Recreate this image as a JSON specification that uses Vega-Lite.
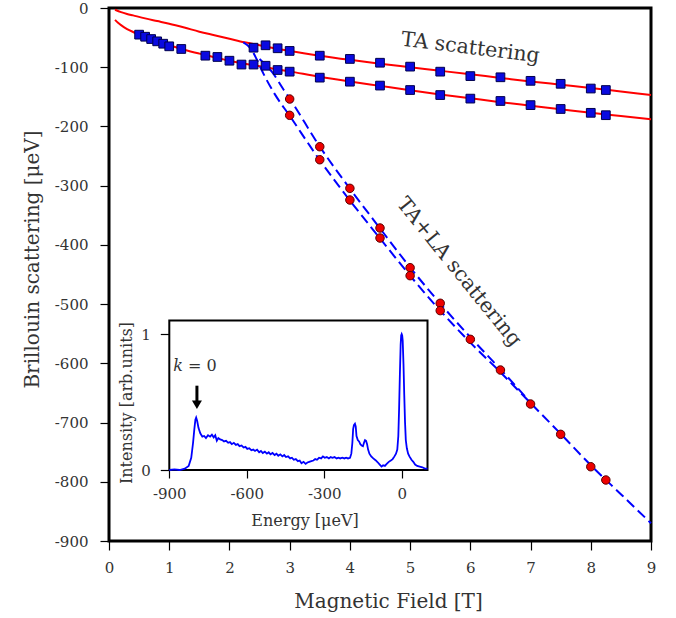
{
  "$schema": "https://vega.github.io/schema/vega-lite/v6.json",
  "width": 542,
  "height": 533,
  "autosize": "none",
  "padding": {"left": 109, "top": 8, "right": 25, "bottom": 77},
  "config": {
    "view": {"stroke": "#000", "strokeWidth": 3},
    "font": "DejaVu Serif",
    "axis": {"grid": false, "domain": false, "tickColor": "#000", "tickWidth": 1.2, "labelFont": "DejaVu Serif", "titleFont": "DejaVu Serif", "labelColor": "#333", "titleColor": "#333", "titleFontWeight": "normal", "labelFlush": false, "labelOverlap": false}
  },
  "datasets": {
    "curves": [
      {"c": "u", "B": 0.1, "E": -3}, {"c": "u", "B": 0.2, "E": -7}, {"c": "u", "B": 0.3, "E": -10}, {"c": "u", "B": 0.4, "E": -12.5},
      {"c": "u", "B": 0.6, "E": -17.5}, {"c": "u", "B": 0.8, "E": -22}, {"c": "u", "B": 1.0, "E": -26.5}, {"c": "u", "B": 1.25, "E": -33},
      {"c": "u", "B": 1.5, "E": -40}, {"c": "u", "B": 1.75, "E": -46}, {"c": "u", "B": 2.0, "E": -52}, {"c": "u", "B": 2.25, "E": -58},
      {"c": "u", "B": 2.5, "E": -63}, {"c": "u", "B": 2.75, "E": -68}, {"c": "u", "B": 3.0, "E": -72.5}, {"c": "u", "B": 3.5, "E": -80.5},
      {"c": "u", "B": 4.0, "E": -87.5}, {"c": "u", "B": 4.5, "E": -94}, {"c": "u", "B": 5.0, "E": -100}, {"c": "u", "B": 5.5, "E": -106},
      {"c": "u", "B": 6.0, "E": -112}, {"c": "u", "B": 6.5, "E": -118}, {"c": "u", "B": 7.0, "E": -124}, {"c": "u", "B": 7.5, "E": -129.5},
      {"c": "u", "B": 8.0, "E": -135}, {"c": "u", "B": 8.5, "E": -141}, {"c": "u", "B": 9.0, "E": -147},
      {"c": "l", "B": 0.1, "E": -20}, {"c": "l", "B": 0.15, "E": -25}, {"c": "l", "B": 0.2, "E": -29}, {"c": "l", "B": 0.3, "E": -35.5},
      {"c": "l", "B": 0.4, "E": -40.5}, {"c": "l", "B": 0.5, "E": -45}, {"c": "l", "B": 0.7, "E": -53}, {"c": "l", "B": 1.0, "E": -63},
      {"c": "l", "B": 1.25, "E": -70.5}, {"c": "l", "B": 1.5, "E": -77}, {"c": "l", "B": 1.75, "E": -83}, {"c": "l", "B": 2.0, "E": -89},
      {"c": "l", "B": 2.5, "E": -98.5}, {"c": "l", "B": 3.0, "E": -107}, {"c": "l", "B": 3.5, "E": -116}, {"c": "l", "B": 4.0, "E": -124},
      {"c": "l", "B": 4.5, "E": -131.5}, {"c": "l", "B": 5.0, "E": -139}, {"c": "l", "B": 5.5, "E": -146}, {"c": "l", "B": 6.0, "E": -152.5},
      {"c": "l", "B": 6.5, "E": -159}, {"c": "l", "B": 7.0, "E": -165}, {"c": "l", "B": 7.5, "E": -171}, {"c": "l", "B": 8.0, "E": -177},
      {"c": "l", "B": 8.5, "E": -182.5}, {"c": "l", "B": 9.0, "E": -188}
    ],
    "dashed": [
      {"c": "L", "B": 2.23, "E": -58}, {"c": "L", "B": 2.3, "E": -63}, {"c": "L", "B": 2.37, "E": -71}, {"c": "L", "B": 2.45, "E": -86},
      {"c": "L", "B": 2.56, "E": -110}, {"c": "L", "B": 2.75, "E": -145}, {"c": "L", "B": 3.0, "E": -182}, {"c": "L", "B": 3.5, "E": -257},
      {"c": "L", "B": 4.0, "E": -325}, {"c": "L", "B": 4.5, "E": -389}, {"c": "L", "B": 5.0, "E": -452}, {"c": "L", "B": 5.5, "E": -511},
      {"c": "L", "B": 6.0, "E": -565}, {"c": "L", "B": 6.5, "E": -615}, {"c": "L", "B": 7.0, "E": -667}, {"c": "L", "B": 7.5, "E": -719},
      {"c": "L", "B": 8.0, "E": -772}, {"c": "L", "B": 8.5, "E": -821}, {"c": "L", "B": 9.0, "E": -870},
      {"c": "R", "B": 2.5, "E": -86}, {"c": "R", "B": 2.6, "E": -96}, {"c": "R", "B": 2.7, "E": -107}, {"c": "R", "B": 2.9, "E": -138},
      {"c": "R", "B": 3.0, "E": -153}, {"c": "R", "B": 3.5, "E": -234}, {"c": "R", "B": 4.0, "E": -305}, {"c": "R", "B": 4.5, "E": -372},
      {"c": "R", "B": 5.0, "E": -438}, {"c": "R", "B": 5.5, "E": -499}, {"c": "R", "B": 6.0, "E": -556}, {"c": "R", "B": 6.5, "E": -610},
      {"c": "R", "B": 7.0, "E": -666}
    ],
    "squares": [
      {"B": 2.4, "E": -67}, {"B": 2.6, "E": -63}, {"B": 2.8, "E": -68}, {"B": 3.0, "E": -72.5}, {"B": 3.5, "E": -80.5},
      {"B": 4.0, "E": -86}, {"B": 4.5, "E": -92.4}, {"B": 5.0, "E": -99}, {"B": 5.5, "E": -107.5}, {"B": 6.0, "E": -115},
      {"B": 6.5, "E": -117}, {"B": 7.0, "E": -123}, {"B": 7.5, "E": -128}, {"B": 8.0, "E": -136}, {"B": 8.25, "E": -138.5},
      {"B": 0.5, "E": -45}, {"B": 0.6, "E": -48.5}, {"B": 0.7, "E": -52.4}, {"B": 0.8, "E": -56.3}, {"B": 0.9, "E": -60.3},
      {"B": 1.0, "E": -64.7}, {"B": 1.2, "E": -69.2}, {"B": 1.6, "E": -80.5}, {"B": 1.8, "E": -82.7}, {"B": 2.0, "E": -89},
      {"B": 2.2, "E": -95.5}, {"B": 2.4, "E": -95.5}, {"B": 2.6, "E": -97.5}, {"B": 2.8, "E": -104.7}, {"B": 3.0, "E": -107.5},
      {"B": 3.5, "E": -117.6}, {"B": 4.0, "E": -124.4}, {"B": 4.5, "E": -131}, {"B": 5.0, "E": -138.5}, {"B": 5.5, "E": -147},
      {"B": 6.0, "E": -153}, {"B": 6.5, "E": -157}, {"B": 7.0, "E": -164}, {"B": 7.5, "E": -170.5}, {"B": 8.0, "E": -177},
      {"B": 8.25, "E": -181}
    ],
    "circles": [
      {"B": 3.0, "E": -153.7}, {"B": 3.0, "E": -181.2}, {"B": 3.5, "E": -234.2}, {"B": 3.5, "E": -256.2},
      {"B": 4.0, "E": -304.5}, {"B": 4.0, "E": -324.2}, {"B": 4.5, "E": -371.5}, {"B": 4.5, "E": -388.4},
      {"B": 5.0, "E": -438.5}, {"B": 5.0, "E": -452}, {"B": 5.5, "E": -498.6}, {"B": 5.5, "E": -511},
      {"B": 6.0, "E": -559.5}, {"B": 6.5, "E": -611.3}, {"B": 7.0, "E": -668.7}, {"B": 7.5, "E": -719.9},
      {"B": 8.0, "E": -774.6}, {"B": 8.25, "E": -797}
    ],
    "spectrum": [
      {"E": -900, "I": 0.0}, {"E": -880, "I": 0.005}, {"E": -860, "I": 0.0}, {"E": -840, "I": 0.01}, {"E": -825, "I": 0.03},
      {"E": -815, "I": 0.09}, {"E": -808, "I": 0.2}, {"E": -803, "I": 0.3}, {"E": -799, "I": 0.37}, {"E": -796, "I": 0.385},
      {"E": -792, "I": 0.36}, {"E": -787, "I": 0.31}, {"E": -780, "I": 0.27}, {"E": -772, "I": 0.245}, {"E": -765, "I": 0.25},
      {"E": -758, "I": 0.235}, {"E": -750, "I": 0.255}, {"E": -742, "I": 0.245}, {"E": -735, "I": 0.26}, {"E": -728, "I": 0.24},
      {"E": -722, "I": 0.255}, {"E": -716, "I": 0.215}, {"E": -710, "I": 0.235}, {"E": -703, "I": 0.225}, {"E": -695, "I": 0.22},
      {"E": -688, "I": 0.21}, {"E": -680, "I": 0.215}, {"E": -672, "I": 0.2}, {"E": -665, "I": 0.205}, {"E": -658, "I": 0.19},
      {"E": -650, "I": 0.2}, {"E": -642, "I": 0.185}, {"E": -635, "I": 0.19}, {"E": -628, "I": 0.175}, {"E": -620, "I": 0.18},
      {"E": -612, "I": 0.165}, {"E": -605, "I": 0.17}, {"E": -598, "I": 0.155}, {"E": -590, "I": 0.16}, {"E": -582, "I": 0.145},
      {"E": -575, "I": 0.15}, {"E": -568, "I": 0.14}, {"E": -560, "I": 0.15}, {"E": -552, "I": 0.13}, {"E": -545, "I": 0.14},
      {"E": -538, "I": 0.125}, {"E": -530, "I": 0.135}, {"E": -522, "I": 0.12}, {"E": -515, "I": 0.13}, {"E": -508, "I": 0.115},
      {"E": -500, "I": 0.125}, {"E": -492, "I": 0.11}, {"E": -485, "I": 0.12}, {"E": -478, "I": 0.105}, {"E": -470, "I": 0.115},
      {"E": -462, "I": 0.1}, {"E": -455, "I": 0.11}, {"E": -448, "I": 0.095}, {"E": -440, "I": 0.1}, {"E": -432, "I": 0.085},
      {"E": -425, "I": 0.09}, {"E": -418, "I": 0.075}, {"E": -410, "I": 0.08}, {"E": -402, "I": 0.065}, {"E": -395, "I": 0.07},
      {"E": -388, "I": 0.05}, {"E": -380, "I": 0.06}, {"E": -372, "I": 0.045}, {"E": -365, "I": 0.055}, {"E": -358, "I": 0.06},
      {"E": -350, "I": 0.065}, {"E": -342, "I": 0.07}, {"E": -335, "I": 0.08}, {"E": -328, "I": 0.075}, {"E": -320, "I": 0.09},
      {"E": -312, "I": 0.085}, {"E": -305, "I": 0.1}, {"E": -298, "I": 0.09}, {"E": -290, "I": 0.095}, {"E": -282, "I": 0.085},
      {"E": -275, "I": 0.095}, {"E": -268, "I": 0.09}, {"E": -260, "I": 0.095}, {"E": -252, "I": 0.085}, {"E": -245, "I": 0.09},
      {"E": -238, "I": 0.085}, {"E": -230, "I": 0.09}, {"E": -222, "I": 0.085}, {"E": -215, "I": 0.09}, {"E": -208, "I": 0.085},
      {"E": -200, "I": 0.09}, {"E": -195, "I": 0.12}, {"E": -191, "I": 0.2}, {"E": -188, "I": 0.3}, {"E": -185, "I": 0.33},
      {"E": -181, "I": 0.34}, {"E": -178, "I": 0.32}, {"E": -175, "I": 0.25}, {"E": -170, "I": 0.22}, {"E": -165, "I": 0.21},
      {"E": -160, "I": 0.19}, {"E": -155, "I": 0.18}, {"E": -150, "I": 0.175}, {"E": -146, "I": 0.2}, {"E": -142, "I": 0.22},
      {"E": -138, "I": 0.215}, {"E": -134, "I": 0.19}, {"E": -130, "I": 0.15}, {"E": -125, "I": 0.12}, {"E": -118, "I": 0.1},
      {"E": -110, "I": 0.085}, {"E": -100, "I": 0.07}, {"E": -92, "I": 0.055}, {"E": -85, "I": 0.04}, {"E": -78, "I": 0.025},
      {"E": -72, "I": 0.035}, {"E": -65, "I": 0.03}, {"E": -58, "I": 0.045}, {"E": -50, "I": 0.06}, {"E": -42, "I": 0.07},
      {"E": -35, "I": 0.08}, {"E": -28, "I": 0.1}, {"E": -22, "I": 0.12}, {"E": -17, "I": 0.15}, {"E": -13, "I": 0.25},
      {"E": -10, "I": 0.45}, {"E": -7, "I": 0.7}, {"E": -4, "I": 0.92}, {"E": -2, "I": 0.99}, {"E": 0, "I": 1.0},
      {"E": 2, "I": 0.99}, {"E": 4, "I": 0.95}, {"E": 7, "I": 0.78}, {"E": 10, "I": 0.55}, {"E": 13, "I": 0.35},
      {"E": 16, "I": 0.22}, {"E": 20, "I": 0.16}, {"E": 25, "I": 0.12}, {"E": 30, "I": 0.1}, {"E": 38, "I": 0.075},
      {"E": 45, "I": 0.06}, {"E": 52, "I": 0.04}, {"E": 60, "I": 0.03}, {"E": 70, "I": 0.025}, {"E": 80, "I": 0.02},
      {"E": 90, "I": 0.01}, {"E": 100, "I": 0.01}
    ]
  },
  "layer": [
    {
      "layer": [
        {
          "data": {"name": "curves"},
          "mark": {"type": "line", "color": "#ff0000", "strokeWidth": 2, "interpolate": "monotone"},
          "encoding": {
            "x": {"field": "B", "type": "quantitative", "scale": {"domain": [0, 9], "nice": false, "zero": false},
              "axis": {"values": [0, 1, 2, 3, 4, 5, 6, 7, 8, 9], "format": "d", "tickSize": 9, "labelPadding": 10, "labelFontSize": 15,
                "title": "Magnetic Field [T]", "titleFontSize": 20, "titleX": 279, "titleY": 60, "titleBaseline": "middle"}},
            "y": {"field": "E", "type": "quantitative", "scale": {"domain": [-900, 0], "nice": false, "zero": false},
              "axis": {"values": [-900, -800, -700, -600, -500, -400, -300, -200, -100, 0], "tickSize": 9, "labelPadding": 12, "labelFontSize": 15,
                "labelExpr": "datum.value == 0 ? '0' : '-' + format(abs(datum.value), 'd')",
                "title": "Brillouin scattering [μeV]", "titleFontSize": 20, "titleAngle": 270, "titleX": -77, "titleY": 251, "titleBaseline": "middle", "titleAlign": "center"}},
            "detail": {"field": "c", "type": "nominal"}
          }
        },
        {
          "data": {"name": "dashed"},
          "mark": {"type": "line", "color": "#0000ff", "strokeWidth": 2, "strokeDash": [10, 5], "interpolate": "monotone"},
          "encoding": {
            "x": {"field": "B", "type": "quantitative"},
            "y": {"field": "E", "type": "quantitative"},
            "detail": {"field": "c", "type": "nominal"}
          }
        },
        {
          "data": {"name": "squares"},
          "mark": {"type": "point", "shape": "square", "filled": true, "fill": "#0a0ae0", "stroke": "#00004d", "strokeWidth": 1, "size": 76, "opacity": 1},
          "encoding": {
            "x": {"field": "B", "type": "quantitative"},
            "y": {"field": "E", "type": "quantitative"}
          }
        },
        {
          "data": {"name": "circles"},
          "mark": {"type": "point", "shape": "circle", "filled": true, "fill": "#ee0000", "stroke": "#5a0000", "strokeWidth": 1, "size": 72, "opacity": 1},
          "encoding": {
            "x": {"field": "B", "type": "quantitative"},
            "y": {"field": "E", "type": "quantitative"}
          }
        },
        {
          "data": {"values": [{}]},
          "mark": {"type": "text", "text": "TA scattering", "angle": 7, "fontSize": 20.5, "font": "DejaVu Serif", "color": "#333", "align": "center", "baseline": "middle"},
          "encoding": {
            "x": {"datum": 6.0, "type": "quantitative"},
            "y": {"datum": -67.5, "type": "quantitative"}
          }
        },
        {
          "data": {"values": [{}]},
          "mark": {"type": "text", "text": "TA+LA scattering", "angle": 51, "fontSize": 20.5, "font": "DejaVu Serif", "color": "#333", "align": "center", "baseline": "middle"},
          "encoding": {
            "x": {"datum": 5.81, "type": "quantitative"},
            "y": {"datum": -446, "type": "quantitative"}
          }
        }
      ]
    },
    {
      "layer": [
        {
          "data": {"values": [{}]},
          "mark": {"type": "rect", "fill": "#ffffff", "stroke": "#000000", "strokeWidth": 2},
          "encoding": {
            "x": {"datum": -900, "type": "quantitative", "scale": {"domain": [-900, 100], "range": [60.3, 318.5], "nice": false, "zero": false}},
            "x2": {"datum": 100},
            "y": {"datum": 0, "type": "quantitative", "scale": {"domain": [0, 1.1], "range": [462, 312.4], "nice": false, "zero": false}},
            "y2": {"datum": 1.1}
          }
        },
        {
          "data": {"name": "spectrum"},
          "mark": {"type": "line", "color": "#0000ff", "strokeWidth": 1.8},
          "encoding": {
            "x": {"field": "E", "type": "quantitative", "scale": {"domain": [-900, 100], "range": [60.3, 318.5], "nice": false, "zero": false},
              "axis": {"orient": "bottom", "offset": -71, "values": [-900, -600, -300, 0], "tickSize": 8, "labelPadding": 8, "labelFontSize": 15,
                "labelExpr": "datum.value == 0 ? '0' : '-' + format(abs(datum.value), 'd')",
                "title": "Energy [μeV]", "titleFontSize": 16, "titleX": 195.5, "titleY": 50, "titleBaseline": "middle"}},
            "y": {"field": "I", "type": "quantitative", "scale": {"domain": [0, 1.1], "range": [462, 312.4], "nice": false, "zero": false},
              "axis": {"orient": "left", "offset": -60.3, "values": [0, 1], "format": "d", "tickSize": 9, "labelPadding": 10, "labelFontSize": 15,
                "title": "Intensity [arb.units]", "titleFontSize": 16, "titleAngle": 270, "titleX": -43.3, "titleY": 394.5, "titleBaseline": "middle", "titleAlign": "center"}}
          }
        },
        {
          "data": {"values": [{}]},
          "mark": {"type": "rule", "color": "#000000", "strokeWidth": 3},
          "encoding": {
            "x": {"datum": -793, "type": "quantitative"},
            "y": {"datum": 0.62, "type": "quantitative"},
            "y2": {"datum": 0.5}
          }
        },
        {
          "data": {"values": [{}]},
          "mark": {"type": "point", "shape": "triangle-down", "filled": true, "color": "#000000", "size": 100, "opacity": 1},
          "encoding": {
            "x": {"datum": -793, "type": "quantitative"},
            "y": {"datum": 0.48, "type": "quantitative"}
          }
        },
        {
          "data": {"values": [{}]},
          "mark": {"type": "text", "text": "k", "fontStyle": "italic", "fontSize": 16, "font": "DejaVu Serif", "color": "#333", "align": "left", "baseline": "alphabetic"},
          "encoding": {
            "x": {"datum": -885, "type": "quantitative"},
            "y": {"datum": 0.73, "type": "quantitative"}
          }
        },
        {
          "data": {"values": [{}]},
          "mark": {"type": "text", "text": "= 0", "fontSize": 16, "font": "DejaVu Serif", "color": "#333", "align": "left", "baseline": "alphabetic"},
          "encoding": {
            "x": {"datum": -828, "type": "quantitative"},
            "y": {"datum": 0.73, "type": "quantitative"}
          }
        }
      ]
    }
  ],
  "resolve": {"scale": {"x": "independent", "y": "independent"}}
}
